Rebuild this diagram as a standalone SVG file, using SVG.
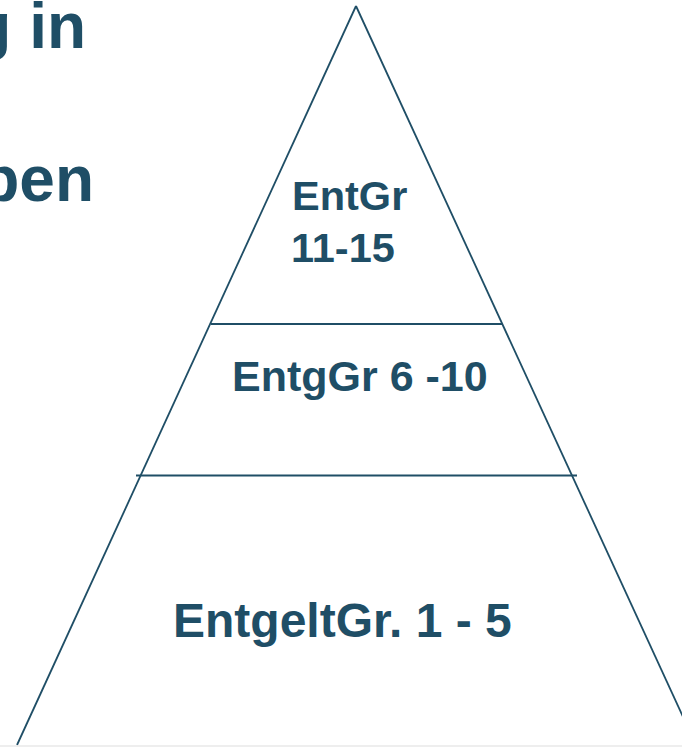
<svg xmlns="http://www.w3.org/2000/svg" width="682" height="747" viewBox="0 0 682 747">
<style>
.t{font-family:"Liberation Sans",Arial,sans-serif;font-weight:bold;fill:#1f4e66}
.ln{stroke:#1f4e66;stroke-width:1.8;fill:none}
</style>
<rect width="682" height="747" fill="#ffffff"/>
<g id="title">
<text class="t" x="86" y="48" font-size="64" text-anchor="end">g in</text>
<text class="t" x="94" y="201" font-size="64" text-anchor="end">pen</text>
</g>
<g id="connectors">
<line class="ln" x1="356" y1="6" x2="17" y2="745"/>
<line class="ln" x1="356" y1="6" x2="696" y2="745"/>
<line class="ln" x1="211" y1="324" x2="502" y2="324"/>
<line class="ln" x1="136" y1="475.5" x2="577" y2="475.5"/>
<line x1="0" y1="746" x2="682" y2="746" stroke="#e8e8e8" stroke-width="1.5"/>
</g>
<g id="tier-top">
<text class="t" x="292" y="210" font-size="41.5">EntGr</text>
<text class="t" x="291" y="262" font-size="41.5">11-15</text>
</g>
<g id="tier-middle">
<text class="t" x="232" y="391" font-size="43">EntgGr 6 -10</text>
</g>
<g id="tier-bottom">
<text class="t" x="173" y="637" font-size="48">EntgeltGr. 1 - 5</text>
</g>
</svg>
